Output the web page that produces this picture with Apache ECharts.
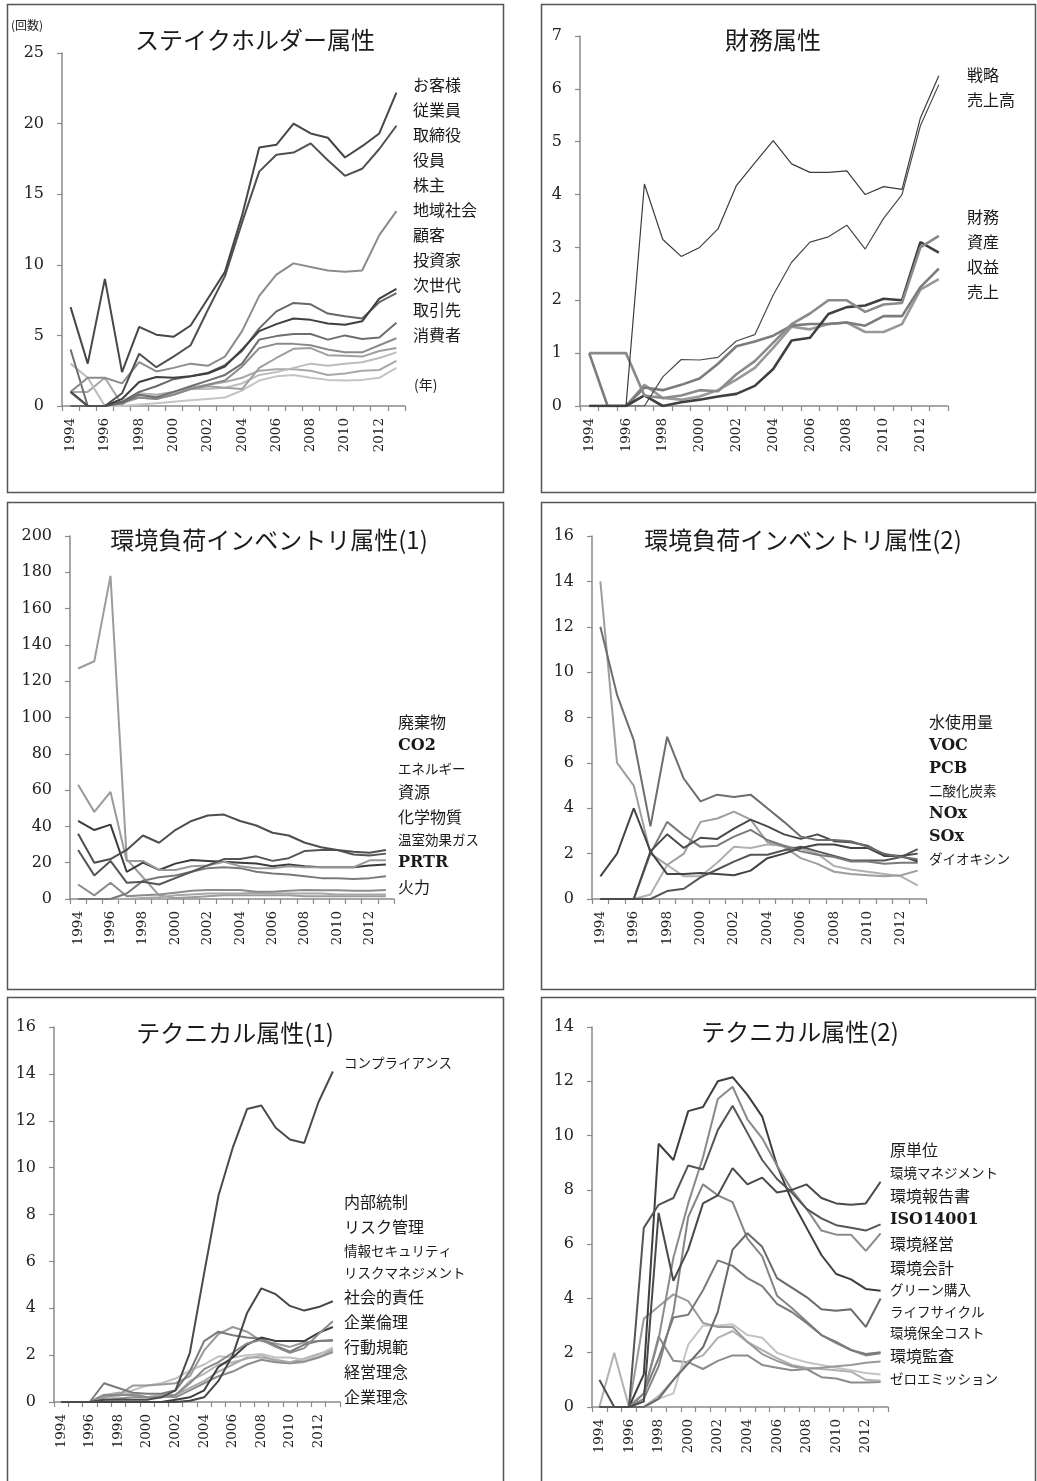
<!DOCTYPE html>
<html><head><meta charset="utf-8">
<script src="https://cdn.jsdelivr.net/npm/echarts@6/dist/echarts.min.js"></script>
<style>html,body{margin:0;padding:0;background:#fff}#c{width:1037px;height:1481px}</style>
</head><body><div id="c"></div><script>
const years = ['1994','1995','1996','1997','1998','1999','2000','2001','2002','2003','2004','2005','2006','2007','2008','2009','2010','2011','2012','2013'];

// Panel 1: ステイクホルダー属性
const stakeholderNames = ['お客様','従業員','取締役','役員','株主','地域社会','顧客','投資家','次世代','取引先','消費者'];
const stakeholderValues = [
  [7, 3, 9, 2.4, 5.6, 5.05, 4.9, 5.7, 7.6, 9.5, 13.5, 18.3, 18.5, 20.0, 19.3, 19.0, 17.6, 18.4, 19.3, 22.2],
  [1, 0, 0, 0.9, 3.7, 2.75, 3.5, 4.3, 6.8, 9.2, 13.0, 16.6, 17.8, 17.95, 18.6, 17.4, 16.3, 16.8, 18.2, 19.85],
  [1, 2, 2, 1.6, 3.1, 2.45, 2.7, 3.0, 2.85, 3.5, 5.3, 7.8, 9.3, 10.1, 9.85, 9.6, 9.5, 9.6, 12.1, 13.8],
  [1, 0, 0, 0.5, 1.7, 2.05, 2.0, 2.1, 2.3, 2.8, 4.0, 5.3, 5.8, 6.2, 6.1, 5.85, 5.75, 6.0, 7.6, 8.3],
  [0, 0, 0, 0.3, 1.0, 1.4, 1.9, 2.1, 2.35, 2.9, 3.9, 5.5, 6.7, 7.3, 7.2, 6.55, 6.35, 6.2, 7.35, 8.0],
  [4, 0, 0, 0.2, 0.8, 0.6, 1.0, 1.4, 1.8, 2.2, 3.0, 4.7, 4.95, 5.1, 5.1, 4.7, 5.0, 4.75, 4.85, 5.9],
  [0, 0, 0, 0.3, 0.6, 0.5, 0.8, 1.2, 1.5, 1.8, 2.8, 4.1, 4.4, 4.4, 4.3, 4.0, 3.8, 3.8, 4.3, 4.8],
  [0, 0, 0, 0.2, 0.6, 0.5, 0.8, 1.2, 1.4, 1.3, 1.2, 2.7, 3.4, 4.05, 4.1, 3.6, 3.55, 3.5, 3.9, 4.1],
  [3, 2, 0, 0.3, 0.9, 0.7, 0.9, 1.2, 1.2, 1.3, 1.6, 2.2, 2.4, 2.7, 3.0, 2.85, 3.0, 3.1, 3.4, 3.8],
  [1, 1, 2, 0.1, 0.9, 0.8, 1.0, 1.3, 1.5, 1.7, 2.0, 2.5, 2.6, 2.6, 2.5, 2.2, 2.3, 2.5, 2.55, 3.2],
  [0, 0, 0, 0, 0.1, 0.2, 0.3, 0.4, 0.5, 0.6, 1.1, 1.8, 2.1, 2.2, 2.0, 1.85, 1.8, 1.85, 2.0, 2.7]
];

// Panel 2: 財務属性
const financeNames = ['戦略','売上高','財務','資産','収益','売上'];
const financeValues = [
  [0, 0, 0, 4.2, 3.15, 2.83, 3.0, 3.35, 4.17, 4.6, 5.02, 4.58, 4.42, 4.42, 4.45, 4.0, 4.15, 4.1, 5.45, 6.25],
  [0, 0, 0, 0, 0.55, 0.88, 0.87, 0.92, 1.23, 1.35, 2.1, 2.72, 3.1, 3.2, 3.42, 2.97, 3.55, 4.0, 5.3, 6.08],
  [1, 1, 1, 0.2, 0.15, 0.2, 0.3, 0.28, 0.6, 0.85, 1.2, 1.55, 1.75, 2.0, 2.0, 1.78, 1.92, 1.95, 3.0, 3.22],
  [0, 0, 0, 0.2, 0.0, 0.07, 0.12, 0.18, 0.23, 0.38, 0.7, 1.24, 1.29, 1.74, 1.87, 1.9, 2.03, 2.0, 3.1, 2.9],
  [1, 0, 0, 0.35, 0.3, 0.4, 0.52, 0.8, 1.13, 1.22, 1.33, 1.52, 1.55, 1.55, 1.58, 1.52, 1.7, 1.7, 2.25, 2.6],
  [0, 0, 0, 0.4, 0.15, 0.12, 0.18, 0.3, 0.5, 0.72, 1.1, 1.5, 1.45, 1.55, 1.58, 1.4, 1.4, 1.55, 2.2, 2.4]
];

// Panel 3: 環境負荷インベントリ属性(1)
const inventory1Names = ['廃棄物','CO2','エネルギー','資源','化学物質','温室効果ガス','PRTR','火力'];
const inventory1Values = [
  [36, 20, 22, 27, 35, 31, 38, 43, 46, 46.5, 43, 40.5, 36.5, 35, 31, 28.5, 27, 26, 25.5, 27],
  [27, 13, 21, 9, 9.5, 8, 11.5, 15, 18.5, 22, 22, 23.5, 21, 22.5, 26.5, 27, 27, 24.5, 24, 25],
  [63, 48, 59, 21, 21, 16, 16, 18, 18.5, 20.5, 18, 17, 17, 18, 17.5, 17.5, 17.5, 17.5, 21.3, 21.3],
  [43, 38, 41, 15, 20, 16, 19.5, 21.5, 21, 20.5, 20, 19.5, 18, 19, 18, 17.5, 17.5, 17.5, 18.5, 19],
  [0, 0, 0, 3, 10, 12, 13, 15, 17, 17.5, 17, 15, 14, 13.5, 12.5, 11.5, 11.5, 11, 11.5, 12.5],
  [8, 2, 9, 1.5, 2, 2.5, 3.5, 4.5, 5, 5, 5, 4, 4, 4.5, 5, 4.8, 4.8, 4.5, 4.5, 5],
  [0, 0, 0, 0, 0.5, 1, 2, 2.5, 3, 3, 3, 3.5, 3, 3, 3, 3, 2.5, 2.5, 2.5, 2.5],
  [127, 131, 178, 22, 12, 2, 0.5, 1, 1.5, 2, 2, 2, 2, 2, 1.5, 1.5, 1.5, 1.5, 1.5, 1.5]
];

// Panel 4: 環境負荷インベントリ属性(2)
const inventory2Names = ['水使用量','VOC','PCB','二酸化炭素','NOx','SOx','ダイオキシン'];
const inventory2Values = [
  [12, 9, 7, 3.2, 7.15, 5.3, 4.3, 4.6, 4.5, 4.6, 4.0, 3.4, 2.75, 2.6, 2.6, 2.55, 2.3, 2.0, 1.85, 1.75],
  [0, 0, 0, 2.1, 2.85, 2.25, 2.7, 2.65, 3.1, 3.5, 3.2, 2.85, 2.65, 2.85, 2.55, 2.5, 2.35, 1.95, 1.9, 2.0],
  [1, 2, 4, 2.1, 1.1, 1.1, 1.15, 1.1, 1.05, 1.25, 1.8, 2.0, 2.25, 2.4, 2.4, 2.25, 2.25, 1.9, 1.9, 1.65],
  [0, 0, 0, 2.0, 3.4, 2.8, 2.3, 2.35, 2.75, 3.05, 2.6, 2.35, 2.1, 1.95, 1.85, 1.65, 1.65, 1.55, 1.6, 1.6],
  [0, 0, 0, 0, 0.35, 0.45, 0.95, 1.3, 1.65, 1.95, 1.95, 2.15, 2.3, 2.1, 1.9, 1.7, 1.7, 1.7, 1.85, 2.2],
  [14, 6, 5, 2.0, 1.5, 2.0, 3.4, 3.55, 3.85, 3.5, 2.5, 2.3, 1.8, 1.55, 1.2, 1.1, 1.05, 1.0, 1.05, 1.25],
  [0, 0, 0, 0.2, 1.5, 1.0, 1.0, 1.6, 2.3, 2.25, 2.4, 2.35, 2.2, 2.0, 1.45, 1.3, 1.2, 1.1, 1.0, 0.6]
];

// Panel 5: テクニカル属性(1)
const technical1Names = ['コンプライアンス','内部統制','リスク管理','情報セキュリティ','リスクマネジメント','社会的責任','企業倫理','行動規範','経営理念','企業理念'];
const technical1Values = [
  [0, 0, 0, 0.1, 0.1, 0.1, 0.1, 0.2, 0.5, 2.1, 5.5, 8.8, 10.85, 12.5, 12.65, 11.7, 11.2, 11.05, 12.8, 14.1],
  [0, 0, 0, 0, 0, 0, 0, 0, 0, 0.05, 0.2, 0.9, 2.0, 3.8, 4.85, 4.6, 4.1, 3.9, 4.05, 4.3],
  [0, 0, 0, 0.3, 0.3, 0.3, 0.2, 0.2, 0.3, 0.8, 1.4, 1.7, 2.1, 2.5, 2.65, 2.35, 2.1, 2.3, 2.9, 3.45],
  [0, 0, 0, 0, 0, 0, 0, 0, 0.1, 0.2, 0.5, 1.5, 1.9, 2.45, 2.75, 2.6, 2.6, 2.6, 2.95, 3.2],
  [0, 0, 0, 0.8, 0.6, 0.4, 0.35, 0.35, 0.5, 1.3, 2.6, 3.0, 2.85, 2.75, 2.7, 2.4, 2.15, 2.45, 2.6, 2.65],
  [0, 0, 0, 0.2, 0.3, 0.7, 0.7, 0.75, 0.8, 1.1, 2.2, 2.9, 3.2, 3.0, 2.6, 2.5, 2.35, 2.55, 2.6, 2.6],
  [0, 0, 0, 0.1, 0.25, 0.5, 0.7, 0.8, 1.0, 1.35, 1.6, 1.95, 1.9, 2.0, 2.05, 1.9, 1.9, 1.8, 2.0, 2.33],
  [0, 0, 0, 0.2, 0.4, 0.4, 0.2, 0.3, 0.3, 0.6, 0.9, 1.3, 1.6, 1.9, 1.9, 1.8, 1.7, 1.85, 2.05, 2.23],
  [0, 0, 0, 0.1, 0.15, 0.2, 0.2, 0.25, 0.2, 0.5, 0.8, 1.1, 1.3, 1.6, 1.8, 1.7, 1.65, 1.75, 1.9, 2.13],
  [0, 0, 0, 0.3, 0.4, 0.3, 0.2, 0.2, 0.3, 0.9, 1.2, 1.6, 1.7, 1.85, 2.0, 1.75, 1.65, 1.7, 1.9, 2.2]
];

// Panel 6: テクニカル属性(2)
const technical2Names = ['原単位','環境マネジメント','環境報告書','ISO14001','環境経営','環境会計','グリーン購入','ライフサイクル','環境保全コスト','環境監査','ゼロエミッション'];
const technical2Values = [
  [1, 0, 0, 0.2, 7.15, 4.65, 5.8, 7.5, 7.8, 8.8, 8.2, 8.45, 7.9, 8.0, 8.2, 7.7, 7.5, 7.45, 7.5, 8.3],
  [0, 0, 0, 6.6, 7.45, 7.7, 8.9, 8.75, 10.2, 11.1, 10.1, 9.1, 8.4, 7.9, 7.3, 6.95, 6.7, 6.6, 6.5, 6.73],
  [0, 0, 0, 0.5, 2.5, 5.5, 7.5, 9.2, 11.35, 11.8, 10.6, 9.9, 8.9, 8.0, 7.3, 6.5, 6.35, 6.35, 5.75, 6.4],
  [0, 0, 0, 1.2, 9.7, 9.1, 10.9, 11.05, 12.0, 12.15, 11.5, 10.7, 8.9, 7.6, 6.6, 5.6, 4.9, 4.7, 4.35, 4.28],
  [0, 0, 0, 0, 0.3, 1.0, 1.6, 2.2, 3.5, 5.8, 6.4, 5.9, 4.75, 4.4, 4.05, 3.6, 3.55, 3.6, 2.95, 4.0],
  [0, 0, 0, 0.5, 1.8, 3.3, 3.4, 4.3, 5.4, 5.2, 4.75, 4.45, 3.8, 3.5, 3.1, 2.65, 2.4, 2.1, 1.95, 2.02],
  [0, 0, 0, 0.3, 1.5, 3.5, 7.0, 8.2, 7.8, 7.55, 6.2, 5.55, 4.1, 3.65, 3.15, 2.65, 2.35, 2.1, 1.9, 1.98],
  [0, 0, 0, 3.25, 3.7, 4.15, 3.9, 3.1, 2.95, 2.95, 2.4, 1.95, 1.7, 1.5, 1.4, 1.45, 1.5, 1.55, 1.63, 1.68],
  [0, 0, 0, 0, 0.3, 0.5, 2.3, 3.0, 3.0, 3.05, 2.65, 2.55, 2.0, 1.8, 1.65, 1.55, 1.45, 1.35, 1.25, 1.2],
  [0, 2, 0, 0, 0.4, 1.0, 1.7, 1.9, 2.55, 2.8, 2.4, 2.1, 1.8, 1.55, 1.45, 1.4, 1.35, 1.3, 1.0, 0.97],
  [0, 0, 0, 0.5, 2.6, 1.7, 1.65, 1.4, 1.7, 1.9, 1.9, 1.55, 1.45, 1.35, 1.4, 1.1, 1.05, 0.9, 0.9, 0.92]
];

const titles = ['ステイクホルダー属性','財務属性','環境負荷インベントリ属性(1)','環境負荷インベントリ属性(2)','テクニカル属性(1)','テクニカル属性(2)'];
const axisMax = [25, 7, 200, 16, 16, 14];
const axisInterval = [5, 1, 20, 2, 2, 2];
const unitLabel = '(回数)';
const yearLabel = '(年)';

// ---------- layout / style (not data) ----------
const CJK = "'Noto Sans CJK JP', sans-serif";
const SERIF = "'DejaVu Serif', serif";
const panels = [
  { names: stakeholderNames, values: stakeholderValues, grid: {left: 62, top: 53, width: 343, height: 353}, title: [255, 40],
    colors: ['#474747','#505050','#8c8c8c','#3f3f3f','#686868','#6e6e6e','#8a8a8a','#9e9e9e','#bcbcbc','#a8a8a8','#c4c4c4'],
    widths: 2, legends: [{x: 413, y: 85, gap: 9, names: stakeholderNames}] },
  { names: financeNames, values: financeValues, grid: {left: 580, top: 36, width: 368, height: 370}, title: [773, 40],
    colors: ['#3c3c3c','#4a4a4a','#8a8a8a','#404040','#7c7c7c','#989898'],
    widths: [1.2, 1.2, 2.6, 2.6, 2.6, 2.6],
    legends: [{x: 967, y: 75, gap: 9, names: ['戦略','売上高']}, {x: 967, y: 217, gap: 9, names: ['財務','資産','収益','売上']}] },
  { names: inventory1Names, values: inventory1Values, grid: {left: 70, top: 536, width: 324, height: 363}, title: [269, 540],
    colors: ['#4e4e4e','#555555','#9a9a9a','#3c3c3c','#7a7a7a','#8c8c8c','#a8a8a8','#9c9c9c'],
    widths: 2, legends: [{x: 398, y: 722, gap: 8.3, names: inventory1Names}] },
  { names: inventory2Names, values: inventory2Values, grid: {left: 592, top: 536, width: 334, height: 363}, title: [803, 540],
    colors: ['#6e6e6e','#4a4a4a','#444444','#7a7a7a','#555555','#9e9e9e','#b0b0b0'],
    widths: 2, legends: [{x: 929, y: 722, gap: 7.5, names: inventory2Names}] },
  { names: technical1Names, values: technical1Values, grid: {left: 54, top: 1027, width: 286, height: 375}, title: [235, 1033],
    colors: ['#4a4a4a','#474747','#8a8a8a','#3e3e3e','#7a7a7a','#9a9a9a','#c0c0c0','#a8a8a8','#8c8c8c','#b4b4b4'],
    widths: 2, legends: [{x: 344, y: 1063, gap: 9, names: ['コンプライアンス']}, {x: 344, y: 1202, gap: 9, names: technical1Names.slice(1)}] },
  { names: technical2Names, values: technical2Values, grid: {left: 592, top: 1027, width: 296, height: 380}, title: [800, 1032],
    colors: ['#4a4a4a','#555555','#8a8a8a','#3e3e3e','#6a6a6a','#7a7a7a','#858585','#9a9a9a','#c4c4c4','#b0b0b0','#8c8c8c'],
    widths: 2, legends: [{x: 890, y: 1150, gap: 8, names: technical2Names}] }
];

const smallNames = ['エネルギー','温室効果ガス','二酸化炭素','ダイオキシン','コンプライアンス','情報セキュリティ','リスクマネジメント','環境マネジメント','グリーン購入','ライフサイクル','環境保全コスト','ゼロエミッション'];
const TH = {n: 16, s: 14, b: 16};
function styleKey(name) {
  if (/^[A-Za-z0-9]+$/.test(name)) return 'b';
  if (smallNames.indexOf(name) >= 0) return 's';
  return 'n';
}
const richStyles = {
  n: {fontFamily: CJK, fontSize: 16, color: '#1a1a1a'},
  s: {fontFamily: CJK, fontSize: 13.5, color: '#1a1a1a'},
  b: {fontFamily: SERIF, fontSize: 16, fontWeight: 'bold', color: '#1a1a1a'}
};

const grid = [], xAxis = [], yAxis = [], series = [], legend = [], title = [];
panels.forEach((p, i) => {
  grid.push(Object.assign({containLabel: false}, p.grid));
  xAxis.push({
    type: 'category', gridIndex: i, data: years, boundaryGap: true,
    axisLine: {show: true, lineStyle: {color: '#8a8a8a', width: 1.5}},
    axisTick: {show: true, interval: 0, length: 5, lineStyle: {color: '#8a8a8a', width: 1.2}},
    axisLabel: {interval: 1, rotate: 90, margin: 12, fontFamily: SERIF, fontSize: 13.5, color: '#222'},
    splitLine: {show: false}
  });
  yAxis.push({
    type: 'value', gridIndex: i, min: 0, max: axisMax[i], interval: axisInterval[i],
    axisLine: {show: true, lineStyle: {color: '#8a8a8a', width: 1.5}},
    axisTick: {show: true, length: 5, lineStyle: {color: '#8a8a8a', width: 1.2}},
    axisLabel: {margin: 18, fontFamily: SERIF, fontSize: 16, color: '#222'},
    splitLine: {show: false}
  });
  p.names.forEach((name, j) => {
    const w = Array.isArray(p.widths) ? p.widths[j] : p.widths;
    series.push({
      type: 'line', name: name, xAxisIndex: i, yAxisIndex: i, data: p.values[j],
      symbol: 'none', showSymbol: false, smooth: false, animation: false,
      lineStyle: {color: p.colors[j], width: w}, itemStyle: {color: p.colors[j]},
      emphasis: {disabled: true}, z: 2 + (p.names.length - j)
    });
  });
  p.legends.forEach(lg => {
    const first = styleKey(lg.names[0]);
    legend.push({
      data: lg.names, orient: 'vertical', left: lg.x - 5, top: lg.y - TH[first] / 2,
      padding: 0, itemGap: lg.gap, itemWidth: 0, itemHeight: 4, icon: 'none', selectedMode: false,
      textStyle: {rich: richStyles, color: '#1a1a1a'},
      formatter: name => '{' + styleKey(name) + '|' + name + '}'
    });
  });
  title.push({
    text: titles[i], left: p.title[0], top: p.title[1], textAlign: 'center', textVerticalAlign: 'middle', padding: 0,
    textStyle: {fontFamily: CJK, fontSize: 24, fontWeight: 'normal', color: '#1a1a1a'}
  });
});

const boxStyle = {fill: 'none', stroke: '#555', lineWidth: 1.5};
const graphic = [
  {type: 'rect', shape: {x: 7.5, y: 4.5, width: 496, height: 488}, style: boxStyle, silent: true},
  {type: 'rect', shape: {x: 541.5, y: 4.5, width: 494, height: 488}, style: boxStyle, silent: true},
  {type: 'rect', shape: {x: 7.5, y: 502.5, width: 496, height: 487}, style: boxStyle, silent: true},
  {type: 'rect', shape: {x: 541.5, y: 502.5, width: 494, height: 487}, style: boxStyle, silent: true},
  {type: 'rect', shape: {x: 7.5, y: 997.5, width: 496, height: 495}, style: boxStyle, silent: true},
  {type: 'rect', shape: {x: 541.5, y: 997.5, width: 494, height: 495}, style: boxStyle, silent: true},
  {type: 'text', left: 11, top: 19, style: {text: unitLabel, font: "12px 'Noto Sans CJK JP'", fill: '#222'}, silent: true},
  {type: 'text', left: 414, top: 378, style: {text: yearLabel, font: "14px 'Noto Sans CJK JP'", fill: '#222'}, silent: true}
];

const chart = echarts.init(document.getElementById('c'), null, {renderer: 'canvas'});
chart.setOption({
  backgroundColor: '#ffffff', animation: false,
  grid, xAxis, yAxis, series, legend, title, graphic,
  tooltip: {show: false}
});
</script></body></html>
